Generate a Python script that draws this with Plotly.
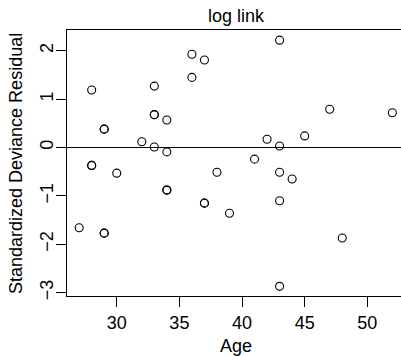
import plotly.graph_objects as go

age = [28, 33, 33, 33, 34, 29, 29, 32, 33, 34,
       28, 28, 30, 34, 34, 27, 29, 29,
       43, 36, 37, 36, 42, 43, 41,
       38, 43, 44, 37, 37, 39, 43, 43,
       47, 52, 45, 48]
resid = [1.19, 1.27, 0.68, 0.68, 0.57, 0.38, 0.38, 0.12, 0.01, -0.09,
         -0.37, -0.37, -0.53, -0.88, -0.88, -1.66, -1.77, -1.77,
         2.22, 1.93, 1.81, 1.45, 0.17, 0.03, -0.24,
         -0.51, -0.51, -0.65, -1.15, -1.15, -1.36, -1.10, -2.87,
         0.79, 0.72, 0.24, -1.87]

x_ticks = [30, 35, 40, 45, 50]
y_ticks = [-3, -2, -1, 0, 1, 2]
y_ticktext = ["\u22123", "\u22122", "\u22121", "0", "1", "2"]
title_text = "log link"
x_label = "Age"
y_label = "Standardized Deviance Residual"

FONT = "Liberation Sans, Arial, Helvetica, sans-serif"
FS = 18
Y_RANGE = [-3.07, 2.43]

fig = go.Figure()
fig.add_trace(go.Scatter(
    x=age, y=resid, mode="markers",
    marker=dict(symbol="circle-open", size=8, color="black",
                line=dict(width=1.1, color="black")),
    showlegend=False, cliponaxis=False,
))
fig.add_hline(y=0, line=dict(color="black", width=1))

fig.update_layout(
    width=401, height=356,
    margin=dict(l=67, r=0, t=30, b=60, autoexpand=False),
    paper_bgcolor="white", plot_bgcolor="white",
    font=dict(family=FONT, size=FS, color="black"),
    title=dict(text=title_text, x=0.506, xref="paper", xanchor="center",
               y=0.957, yref="container", yanchor="middle", automargin=False,
               font=dict(family=FONT, size=FS, color="black")),
    xaxis=dict(range=[26.03, 52.69], tickvals=x_ticks, ticktext=[str(v) for v in x_ticks],
               showgrid=False, zeroline=False, showline=True, linecolor="black",
               linewidth=1, mirror=True, ticks="outside", ticklen=10, automargin=False,
               tickcolor="black", tickwidth=1, tickfont=dict(size=FS)),
    yaxis=dict(range=Y_RANGE, tickvals=y_ticks, showticklabels=False,
               showgrid=False, zeroline=False, showline=True, linecolor="black",
               linewidth=1, mirror=False, ticks="outside", ticklen=10, automargin=False,
               tickcolor="black", tickwidth=1),
    # companion axis carrying the tick labels, placed slightly closer to the frame
    yaxis2=dict(range=Y_RANGE, overlaying="y", side="left", tickvals=y_ticks,
                ticktext=y_ticktext, showgrid=False, zeroline=False, showline=False,
                ticks="outside", ticklen=6, tickcolor="rgba(0,0,0,0)",
                automargin=False, tickangle=-90, tickfont=dict(size=FS)),
    annotations=[
        dict(text=x_label, xref="paper", yref="paper", x=0.506, y=-0.188,
             xanchor="center", yanchor="middle", showarrow=False,
             font=dict(family=FONT, size=FS)),
        dict(text=y_label, xref="paper", yref="paper", x=-0.1527, y=0.5,
             xanchor="center", yanchor="middle", showarrow=False, textangle=-90,
             font=dict(family=FONT, size=FS)),
    ],
)
fig.add_trace(go.Scatter(x=[None], y=[None], yaxis="y2", showlegend=False,
                         hoverinfo="skip"))

fig.write_html("out.html", config={"displayModeBar": False},
               post_script="document.body.style.margin='0';document.body.style.overflow='hidden';")
